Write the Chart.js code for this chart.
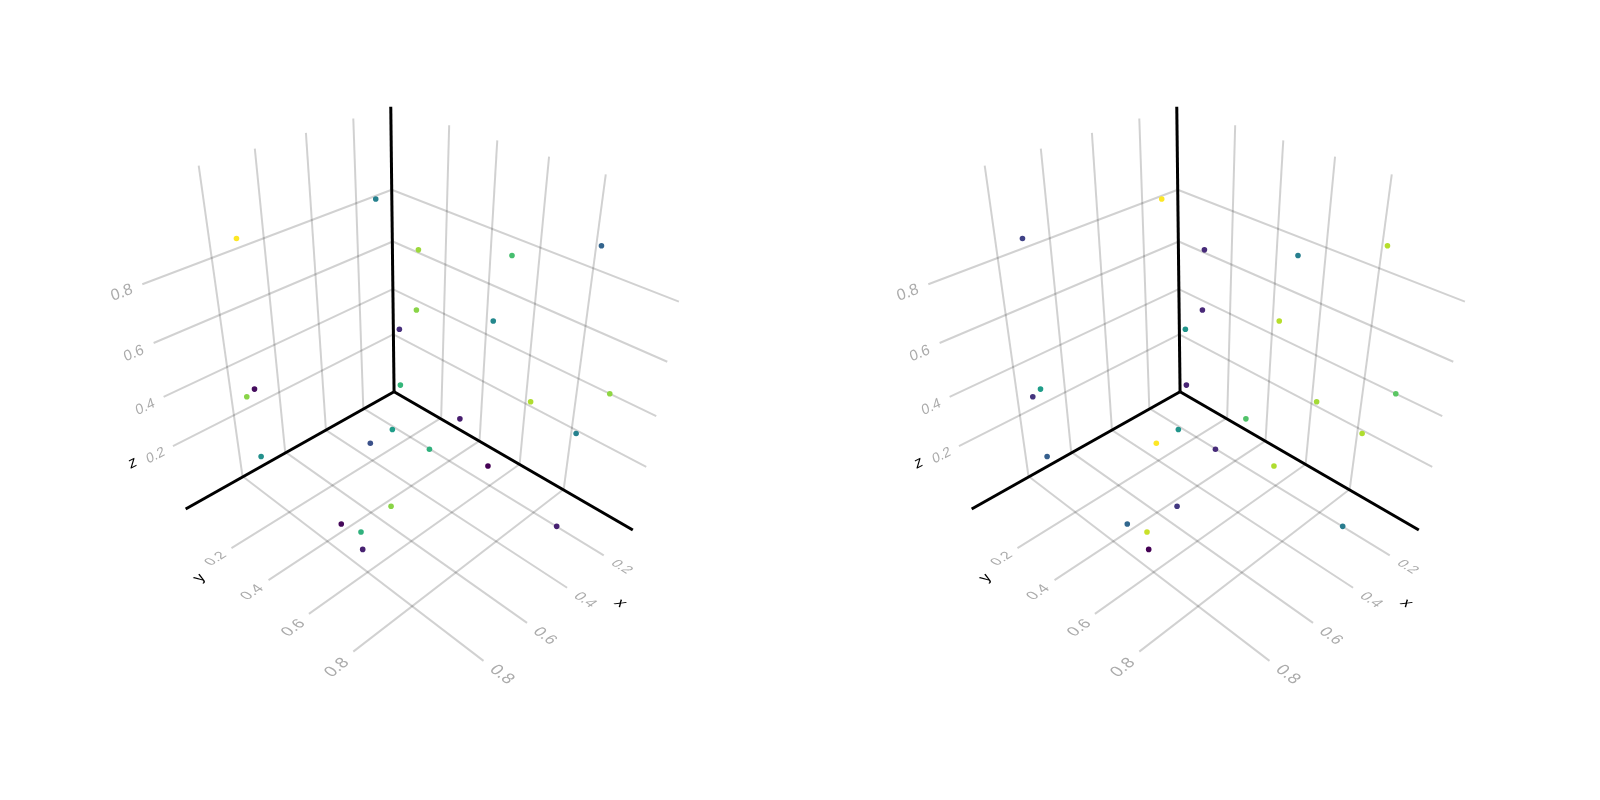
<!DOCTYPE html>
<html>
<head>
<meta charset="utf-8">
<script src="https://cdn.jsdelivr.net/npm/chart.js@4"></script>
<style>
  body { margin: 0; background: #fff; width: 1600px; height: 800px; overflow: hidden; }
  canvas { position: absolute; top: 0; }
  #left { left: 0; }
  #right { left: 786px; }
</style>
</head>
<body>
<canvas id="left" width="800" height="800"></canvas>
<canvas id="right" width="800" height="800"></canvas>
<script>
// projected position of the 25 points, same in both panels
const pointX = [375.7, 236.7, 254.7, 247, 261.3, 370.3, 392.3, 341.3, 361, 362.7, 391, 400.3, 459.7, 429.3, 487.7, 556.3, 530.3, 609.3, 575.7, 418.3, 511.7, 601, 416.3, 493, 399.3];
const pointY = [199.3, 238.7, 389, 396.7, 456.3, 443, 429.3, 523.7, 531.7, 549, 506, 385, 418.7, 449, 465.7, 526, 401.7, 393.7, 433.3, 250, 255.7, 246, 310, 321, 329.3];

// colour values, one list per panel
const leftValues = [0.44, 1, 0.03, 0.82, 0.5, 0.25, 0.55, 0.02, 0.64, 0.09, 0.82, 0.66, 0.08, 0.64, 0, 0.09, 0.88, 0.83, 0.44, 0.85, 0.7, 0.32, 0.82, 0.47, 0.13];
const rightValues = [1, 0.2, 0.55, 0.15, 0.3, 1, 0.52, 0.33, 0.92, 0, 0.17, 0.1, 0.72, 0.12, 0.88, 0.42, 0.86, 0.74, 0.88, 0.12, 0.43, 0.89, 0.11, 0.89, 0.52];

// axes: [x1, y1, x2, y2]
const axisLines = [
  [390.7, 107.3, 394, 391.7],
  [394, 391.7, 632.3, 529.7],
  [394, 391.7, 186, 508.7]
];

// grid, ordered 0.8 -> 0.2 or outer -> inner
const zGridLeftWall = [[142.7, 284.3, 391.7, 190], [154, 343, 392.7, 241.7], [164, 396.7, 392.7, 289.3], [173.3, 446, 393.3, 334.3]];
const zGridRightWall = [[391.7, 190, 678.3, 301.7], [392.7, 241.7, 666.7, 361.7], [392.7, 289.3, 655.7, 416], [393.3, 334.3, 645.7, 466.7]];
const yGridWall = [[199, 166, 242.7, 476], [255, 149, 285.3, 451.7], [306, 133.3, 326, 430], [353.3, 119, 363.3, 408.3]];
const xGridWall = [[449, 125.7, 441, 417.7], [497, 140.7, 479.3, 440.7], [548.7, 157, 519.3, 464], [605.3, 174.7, 563.3, 489]];
const yGridFloor = [[363.3, 408.3, 603.3, 555], [326, 430, 566.7, 587.3], [285.3, 451.7, 526.7, 622.3], [242.7, 476, 483.3, 660.3]];
const xGridFloor = [[441, 417.7, 231.7, 547.7], [479.3, 440.7, 268.7, 579.7], [519.3, 464, 309, 613.3], [563.3, 489, 353.3, 651]];

const labelText = ['0.8', '0.6', '0.4', '0.2', '0.2', '0.4', '0.6', '0.8', '0.2', '0.4', '0.6', '0.8'];
const labelX = [122.3, 134.3, 145.7, 156, 216, 252.5, 293.5, 337, 621, 584.5, 544.5, 501.5];
const labelY = [293, 353.5, 407, 455.5, 558.5, 592, 627.5, 667, 566.5, 599.5, 635.5, 674];
// labels lie in the wall/floor planes: baseline angle and glyph "down" angle
const labelAngle = [-21, -23, -25, -27, -32, -33, -35, -38, 31, 33, 35, 38];
const labelDown = [72, 72, 73, 73, 31, 33, 35, 37, 147, 146, 144, 142];
const labelSize = [16, 15, 14.5, 14, 14, 15, 16, 17, 14, 15, 16, 17];

const axisNames = ['x', 'y', 'z'];
const axisNameX = [620, 200, 133];
const axisNameY = [602.7, 577.5, 462.7];
const axisNameAngle = [30, -32, -27];
const axisNameDown = [148, 31, 74];

const viridisStops = ['#440154', '#482878', '#3e4989', '#31688e', '#26828e', '#1f9e89', '#35b779', '#6ece58', '#b5de2b', '#fde725'];

function hexToRgb(h) {
  return [1, 3, 5].map(i => parseInt(h.slice(i, i + 2), 16));
}

function viridis(v) {
  const t = v * (viridisStops.length - 1);
  const i = Math.min(Math.floor(t), viridisStops.length - 2);
  const a = hexToRgb(viridisStops[i]), b = hexToRgb(viridisStops[i + 1]);
  const c = a.map((n, k) => Math.round(n + (b[k] - n) * (t - i)));
  return `rgb(${c[0]},${c[1]},${c[2]})`;
}

function lineDataset(seg, color, width, order) {
  return {
    data: [{ x: seg[0], y: seg[1] }, { x: seg[2], y: seg[3] }],
    showLine: true,
    borderColor: color,
    borderWidth: width,
    borderCapStyle: 'butt',
    pointRadius: 0,
    order: order
  };
}

// tick labels and axis names, sheared to sit in their plane
const axisTextPlugin = {
  id: 'axisText',
  afterDatasetsDraw(chart) {
    const ctx = chart.ctx;
    const sx = chart.scales.x, sy = chart.scales.y;
    const put = (text, x, y, angle, down, size, color) => {
      const a = angle * Math.PI / 180, d = down * Math.PI / 180;
      ctx.save();
      ctx.transform(Math.cos(a), Math.sin(a), Math.cos(d), Math.sin(d), sx.getPixelForValue(x), sy.getPixelForValue(y));
      ctx.font = `${size}px "Liberation Sans"`;
      ctx.fillStyle = color;
      ctx.textAlign = 'center';
      ctx.textBaseline = 'middle';
      ctx.fillText(text, 0, 0);
      ctx.restore();
    };
    labelText.forEach((t, i) => put(t, labelX[i], labelY[i], labelAngle[i], labelDown[i], labelSize[i], '#ababab'));
    axisNames.forEach((t, i) => put(t, axisNameX[i], axisNameY[i], axisNameAngle[i], axisNameDown[i], 16, '#000'));
  }
};

function drawPanel(id, values) {
  const grid = [].concat(zGridLeftWall, zGridRightWall, yGridWall, xGridWall, yGridFloor, xGridFloor);
  const datasets = [{
    data: pointX.map((x, i) => ({ x: x, y: pointY[i] })),
    pointBackgroundColor: values.map(viridis),
    pointBorderWidth: 0,
    pointRadius: 2.8,
    showLine: false,
    order: 0
  }];
  axisLines.forEach(s => datasets.push(lineDataset(s, '#000', 3, 1)));
  grid.forEach(s => datasets.push(lineDataset(s, 'rgba(0,0,0,0.18)', 2, 2)));

  new Chart(document.getElementById(id), {
    type: 'scatter',
    data: { datasets: datasets },
    options: {
      responsive: false,
      animation: false,
      layout: { padding: 0 },
      plugins: { legend: { display: false }, tooltip: { enabled: false } },
      scales: {
        x: { type: 'linear', display: false, min: 4.67, max: 795.17 },
        y: { type: 'linear', display: false, min: 4.64, max: 795.14, reverse: true }
      }
    },
    plugins: [axisTextPlugin]
  });
}

drawPanel('left', leftValues);
drawPanel('right', rightValues);
</script>
</body>
</html>
